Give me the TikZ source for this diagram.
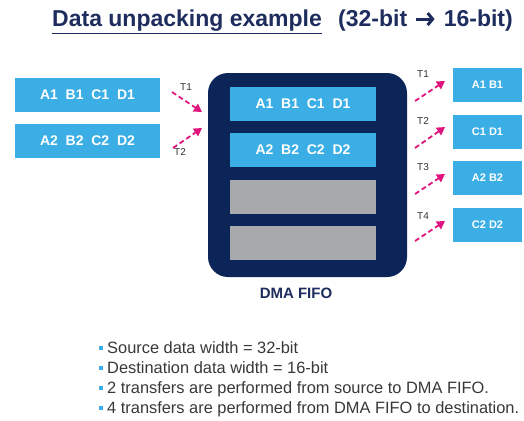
\documentclass[tikz,border=0pt]{standalone}
\usepackage{fontspec}
\setmainfont{Liberation Sans}
\usetikzlibrary{arrows.meta}

\definecolor{fifoblue}{HTML}{0B2559}
\definecolor{cellblue}{HTML}{3BAEE6}
\definecolor{cellgray}{HTML}{A7A9AC}
\definecolor{xfer}{HTML}{E0147E}
\definecolor{titleblue}{HTML}{1E2C5E}

\tikzset{
  heading/.style={inner sep=0pt, text=titleblue, font=\bfseries\fontsize{23}{23}\selectfont},
  cell/.style={fill=cellblue, text=white, inner sep=0pt, minimum height=34pt,
    font=\bfseries\fontsize{14}{14}\selectfont},
  outcell/.style={cell, minimum width=69pt, font=\bfseries\fontsize{11}{11}\selectfont},
  xferarrow/.style={xfer, line width=1.8pt, dash pattern=on 5pt off 3pt,
    -{Triangle[width=9pt,length=8pt]}},
  xferlabel/.style={text=black!80, inner sep=0pt, font=\fontsize{10}{10}\selectfont},
  note/.style={anchor=base west, inner sep=0pt, text=black!78, font=\fontsize{16.4}{16.4}\selectfont},
}
\newcommand{\bulletsq}{\textcolor{cellblue}{\rule[3.5pt]{3.5pt}{3.5pt}}\hspace{4.5pt}}

\begin{document}
\begin{tikzpicture}[x=1pt,y=-1pt]
  \useasboundingbox (0,0) rectangle (524,420);

  % heading
  \node[heading, anchor=base west] (title) at (52,27) {\underline{Data unpacking example}};
  \node[heading, anchor=base west] (widthlo) at (338,27) {(32-bit};
  \node[heading, anchor=base east] (widthhi) at (513,27) {16-bit)};
  \draw[titleblue, line width=3pt, -{Straight Barb[length=5pt,width=12pt]}]
    ([xshift=9pt,yshift=2pt]widthlo.east) -- ([xshift=-9pt,yshift=2pt]widthhi.west);

  % source words (32-bit)
  \node[cell, minimum width=145pt] (src1) at (87.5,94.5) {A1\ \ B1\ \ C1\ \ D1};
  \node[cell, minimum width=145pt] (src2) at (87.5,140.5) {A2\ \ B2\ \ C2\ \ D2};

  % the fifo and its four slots
  \node[fill=fifoblue, rounded corners=20pt, minimum width=199pt, minimum height=204pt,
    inner sep=0pt] (fifo) at (307.5,175) {};
  \node[cell, minimum width=146pt] (slot1) at (303,104) {A1\ \ B1\ \ C1\ \ D1};
  \node[cell, minimum width=146pt] (slot2) at (303,150) {A2\ \ B2\ \ C2\ \ D2};
  \node[cell, fill=cellgray, minimum width=146pt] (slot3) at (303,196.5) {};
  \node[cell, fill=cellgray, minimum width=146pt] (slot4) at (303,243) {};
  \node[text=titleblue, font=\bfseries\fontsize{15}{15}\selectfont] (fifoname) at (296,293) {DMA FIFO};

  % destination half-words (16-bit)
  \node[outcell] (dst1) at (487.5,85) {A1 B1};
  \node[outcell] (dst2) at (487.5,132) {C1 D1};
  \node[outcell] (dst3) at (487.5,178) {A2 B2};
  \node[outcell] (dst4) at (487.5,225) {C2 D2};

  % transfers into the fifo
  \coordinate (in1a) at (172,92);  \coordinate (in1b) at (202,112);
  \coordinate (in2a) at (173,148); \coordinate (in2b) at (202,128);
  \draw[xferarrow] (in1a) -- (in1b);
  \draw[xferarrow] (in2a) -- (in2b);
  \node[xferlabel] (tin1) at (186,87) {T1};
  \node[xferlabel] (tin2) at (180,152) {T2};

  % transfers out of the fifo
  \coordinate (out1a) at (415,101); \coordinate (out1b) at (445,81);
  \coordinate (out2a) at (415,148); \coordinate (out2b) at (445,127);
  \coordinate (out3a) at (415,194); \coordinate (out3b) at (445,174);
  \coordinate (out4a) at (415,241); \coordinate (out4b) at (445,221);
  \draw[xferarrow] (out1a) -- (out1b);
  \draw[xferarrow] (out2a) -- (out2b);
  \draw[xferarrow] (out3a) -- (out3b);
  \draw[xferarrow] (out4a) -- (out4b);
  \node[xferlabel] (tout1) at (423,74) {T1};
  \node[xferlabel] (tout2) at (423,121) {T2};
  \node[xferlabel] (tout3) at (423,167) {T3};
  \node[xferlabel] (tout4) at (423,216) {T4};

  % notes
  \node[note] (note1) at (99,353) {\bulletsq Source data width = 32-bit};
  \node[note] (note2) at (99,373) {\bulletsq Destination data width = 16-bit};
  \node[note] (note3) at (99,393) {\bulletsq 2 transfers are performed from source to DMA FIFO.};
  \node[note] (note4) at (99,413) {\bulletsq 4 transfers are performed from DMA FIFO to destination.};
\end{tikzpicture}
\end{document}
